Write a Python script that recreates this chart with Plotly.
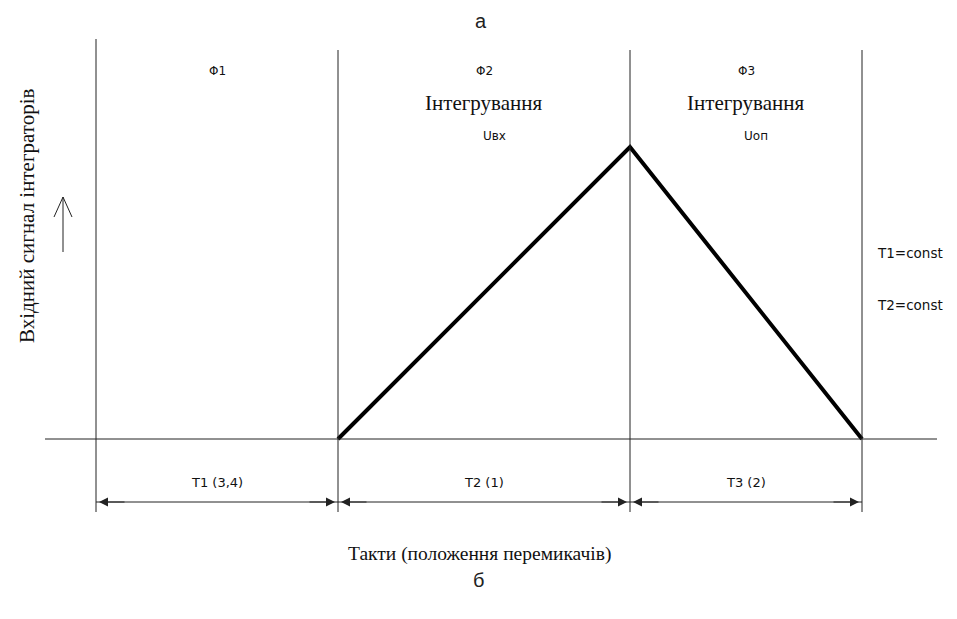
import plotly.graph_objects as go

# ---- data ----
phase_edges = [0.0, 2.42, 5.34, 7.66]          # switch moments (time units)
phase_names = ["Φ1", "Φ2", "Φ3"]
phase_titles = ["", "Інтегрування", "Інтегрування"]
phase_inputs = ["", "Uвх", "Uоп"]
tact_labels = ["T1 (3,4)", "T2 (1)", "T3 (2)"]
signal_x = [2.42, 5.34, 7.66]                  # integrator output corner points
signal_y = [0.0, 1.0, 0.0]
notes = ["T1=const", "T2=const"]

# page has an 8px body margin, so the figure fills the rest of the window
PAGE_OFF = 8
W, H = 957 - PAGE_OFF, 619 - PAGE_OFF
# screen pixel -> data helpers for decorations
X0, SX = 96, 100.0     # screen pixel of t=0, pixels per time unit
Y0, SY = 439, 292.0    # screen pixel of baseline, pixels per signal unit
def dx(p): return (p - X0) / SX
def dy(p): return (Y0 - p) / SY

LINE = "#222222"
SANS = "DejaVu Sans, Liberation Sans, sans-serif"
SERIF = "Liberation Serif, Times New Roman, serif"
NARROW = "Liberation Sans Narrow, Liberation Sans, sans-serif"

fig = go.Figure()
fig.add_trace(go.Scatter(x=signal_x, y=signal_y, mode="lines",
                         line=dict(color="#000000", width=4),
                         hoverinfo="skip", showlegend=False))

shapes = []
shapes.append(dict(type="line", x0=dx(45), x1=dx(937), y0=0, y1=0,
                   line=dict(color=LINE, width=1)))
for i, e in enumerate(phase_edges):
    top = dy(39) if i == 0 else dy(50)
    shapes.append(dict(type="line", x0=e, x1=e, y0=dy(512), y1=top,
                       line=dict(color=LINE, width=1)))
ydim = dy(502)
shapes.append(dict(type="line", x0=phase_edges[0], x1=phase_edges[-1],
                   y0=ydim, y1=ydim, line=dict(color=LINE, width=1)))
ax_x = dx(63)
shapes.append(dict(type="line", x0=ax_x, x1=ax_x, y0=dy(252), y1=dy(197),
                   line=dict(color=LINE, width=1)))
shapes.append(dict(type="path",
                   path=f"M {dx(54)} {dy(217)} L {ax_x} {dy(197)} L {dx(72)} {dy(217)}",
                   line=dict(color=LINE, width=1)))

ann = []
for i in range(3):
    a, b = phase_edges[i], phase_edges[i + 1]
    c = (a + b) / 2
    for tip, src in ((a, a + 0.3), (b, b - 0.3)):
        ann.append(dict(x=tip, y=ydim, ax=src, ay=ydim, axref="x", ayref="y",
                        xref="x", yref="y", text="", showarrow=True,
                        arrowhead=2, arrowsize=1.8, arrowwidth=1,
                        arrowcolor=LINE, standoff=3))
    ann.append(dict(x=c, y=dy(482), text=tact_labels[i], showarrow=False,
                    font=dict(family=SANS, size=13, color="#111")))
    ann.append(dict(x=c, y=dy(71), text=phase_names[i], showarrow=False,
                    font=dict(family=SANS, size=12, color="#111")))
    if phase_titles[i]:
        ann.append(dict(x=c, y=dy(103), text=phase_titles[i], showarrow=False,
                        font=dict(family=SERIF, size=21, color="#111")))
    if phase_inputs[i]:
        ann.append(dict(x=c + 0.1, y=dy(136), text=phase_inputs[i], showarrow=False,
                        font=dict(family=SANS, size=12, color="#111")))

for k, t in enumerate(notes):
    ann.append(dict(x=dx(910), y=dy(253 + 52 * k), text=t, showarrow=False,
                    font=dict(family=SANS, size=13.5, color="#111")))

ann.append(dict(x=dx(27), y=dy(216), text="Вхідний сигнал інтеграторів",
                textangle=-90, showarrow=False,
                font=dict(family=SERIF, size=21, color="#111")))
ann.append(dict(x=dx(479), y=dy(554), text="Такти (положення перемикачів)",
                showarrow=False, font=dict(family=SERIF, size=19.5, color="#111")))
ann.append(dict(x=dx(481), y=dy(21), text="а", showarrow=False,
                font=dict(family=NARROW, size=20, color="#222")))
ann.append(dict(x=dx(478), y=dy(580), text="б", showarrow=False,
                font=dict(family=NARROW, size=20, color="#222")))

fig.update_layout(
    width=W, height=H, autosize=False,
    margin=dict(l=0, r=0, t=0, b=0),
    paper_bgcolor="white", plot_bgcolor="white",
    xaxis=dict(range=[dx(PAGE_OFF), dx(957)], visible=False, fixedrange=True),
    yaxis=dict(range=[dy(619), dy(PAGE_OFF)], visible=False, fixedrange=True),
    shapes=shapes, annotations=ann, showlegend=False,
)
fig.write_html("out.html")
